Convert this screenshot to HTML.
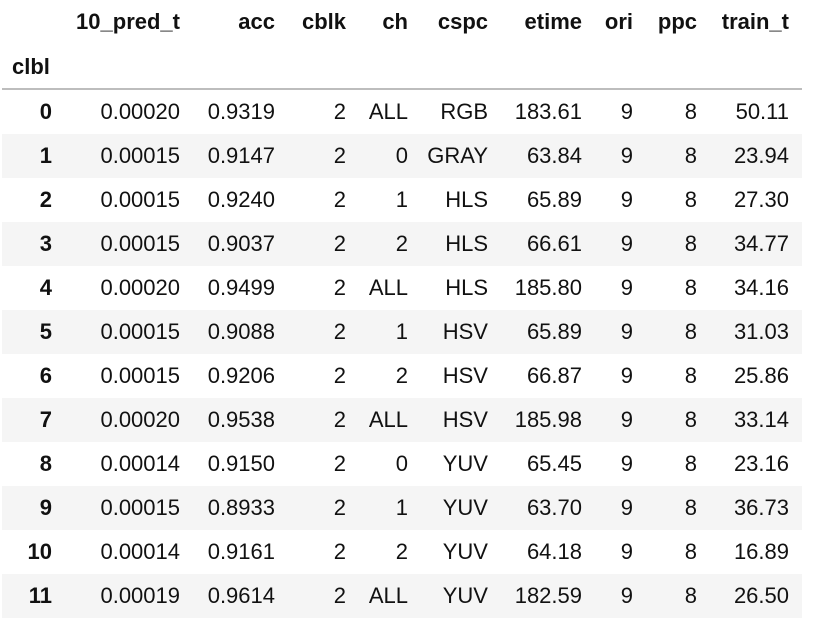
<!DOCTYPE html>
<html><head><meta charset="utf-8"><style>
body{margin:0;background:#fff;width:818px;height:628px;overflow:hidden;font-family:"Liberation Sans",Arial,sans-serif;color:#111;font-size:22px}
.c{position:absolute;white-space:nowrap;line-height:26px}
.b{font-weight:bold}
.row{position:absolute;left:2px;width:800px;height:44px}
</style></head><body>
<div id="tbl" style="position:absolute;left:0;top:0;width:818px;height:628px">
<div style="position:absolute;left:2px;top:88px;width:800px;height:1.5px;background:#bdbdbd"></div>
</div>
<script>
const cols=["10_pred_t","acc","cblk","ch","cspc","etime","ori","ppc","train_t"];
const idx=["0","1","2","3","4","5","6","7","8","9","10","11"];
const predT=["0.00020","0.00015","0.00015","0.00015","0.00020","0.00015","0.00015","0.00020","0.00014","0.00015","0.00014","0.00019"];
const acc=["0.9319","0.9147","0.9240","0.9037","0.9499","0.9088","0.9206","0.9538","0.9150","0.8933","0.9161","0.9614"];
const cblk=["2","2","2","2","2","2","2","2","2","2","2","2"];
const ch=["ALL","0","1","2","ALL","1","2","ALL","0","1","2","ALL"];
const cspc=["RGB","GRAY","HLS","HLS","HLS","HSV","HSV","HSV","YUV","YUV","YUV","YUV"];
const etime=["183.61","63.84","65.89","66.61","185.80","65.89","66.87","185.98","65.45","63.70","64.18","182.59"];
const ori=["9","9","9","9","9","9","9","9","9","9","9","9"];
const ppc=["8","8","8","8","8","8","8","8","8","8","8","8"];
const trainT=["50.11","23.94","27.30","34.77","34.16","31.03","25.86","33.14","23.16","36.73","16.89","26.50"];
const data=[predT,acc,cblk,ch,cspc,etime,ori,ppc,trainT];
const rights=[180,275,346,408,488,582,633,697,789];
const T=document.getElementById('tbl');
function cell(txt,right,cy,bold,name){
  const d=document.createElement('div');
  d.className='c'+(bold?' b':'');
  d.textContent=txt;
  d.style.right=(818-right)+'px';
  d.style.top=(cy-13)+'px';
  
  
  T.appendChild(d);
}
cols.forEach((c,i)=>cell(c,rights[i],22,true,'column-header'));
const lab=document.createElement('div');
lab.className='c b';lab.textContent='clbl';lab.style.left='12px';lab.style.top=(67-13)+'px';


T.appendChild(lab);
idx.forEach((r,j)=>{
  const top=90+j*44;
  const rw=document.createElement('div');
  rw.className='row';rw.style.top=top+'px';
  rw.style.background=(j%2)?'#f5f5f5':'#fff';
  
  
  T.insertBefore(rw,T.firstChild);
  cell(r,52,top+22,true,'row-index');
  data.forEach((arr,i)=>cell(arr[j],rights[i],top+22,false,'table-cell'));
});
</script>
</body></html>
